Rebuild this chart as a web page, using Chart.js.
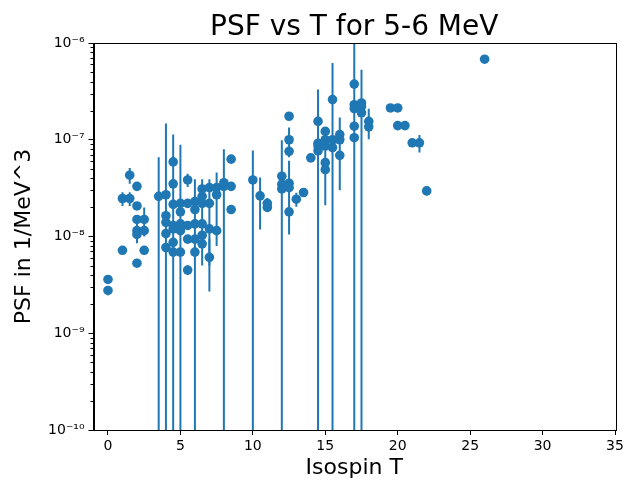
<!DOCTYPE html>
<html>
<head>
<meta charset="utf-8">
<script src="https://cdn.jsdelivr.net/npm/chart.js@4/dist/chart.umd.min.js"></script>
<style>
  html, body { margin: 0; padding: 0; background: #fff; }
  #plot { display: block; }
</style>
</head>
<body>
<canvas id="plot" width="631" height="483"></canvas>
<script>
// isospin T of each level, PSF value and its (symmetric) error
var isospinT = [
    0, 0,
    1, 1,
    1.5, 1.5,
    2, 2, 2, 2, 2, 2,
    2.5, 2.5, 2.5,
    3.5,
    4, 4, 4, 4, 4,
    4.5, 4.5, 4.5, 4.5, 4.5, 4.5, 4.5,
    5, 5, 5, 5, 5,
    5.5, 5.5, 5.5, 5.5, 5.5,
    6, 6, 6, 6, 6,
    6.5, 6.5, 6.5, 6.5, 6.5, 6.5,
    7, 7, 7, 7,
    7.5, 7.5, 7.5,
    8, 8,
    8.5, 8.5, 8.5,
    10, 10.5, 11, 11,
    12, 12, 12,
    12.5, 12.5, 12.5, 12.5, 12.5, 12.5,
    13, 13.5, 14,
    14.5, 14.5, 14.5, 14.5,
    15, 15, 15, 15, 15,
    15.5, 15.5, 15.5,
    16, 16, 16,
    17, 17, 17, 17, 17,
    17.5, 17.5, 17.5,
    18, 18,
    19.5, 20, 20, 20.5, 21, 21.5, 22, 26
];
var psf = [
    3.6e-9, 2.77e-9,
    7.2e-9, 2.47e-8,
    4.3e-8, 2.47e-8,
    3.3e-8, 2.07e-8, 1.5e-8, 1.15e-8, 1.05e-8, 5.3e-9,
    1.5e-8, 1.15e-8, 7.2e-9,
    2.6e-8,
    2.7e-8, 1.64e-8, 1.4e-8, 1.07e-8, 7.7e-9,
    5.9e-8, 3.5e-8, 2.15e-8, 1.3e-8, 1.2e-8, 8.7e-9, 6.9e-9,
    2.2e-8, 1.8e-8, 1.35e-8, 1.15e-8, 6.9e-9,
    3.84e-8, 2.2e-8, 1.3e-8, 9.4e-9, 4.5e-9,
    2.3e-8, 1.9e-8, 1.35e-8, 9.4e-9, 6.9e-9,
    3.1e-8, 2.6e-8, 2.2e-8, 1.35e-8, 1.03e-8, 8.4e-9,
    3.2e-8, 2.2e-8, 1.2e-8, 6.1e-9,
    3.2e-8, 2.7e-8, 1.15e-8,
    3.6e-8, 3.3e-8,
    6.3e-8, 3.3e-8, 1.9e-8,
    3.84e-8, 2.63e-8, 2.2e-8, 2.0e-8,
    4.2e-8, 3.47e-8, 3.1e-8,
    1.75e-7, 1.0e-7, 7.6e-8, 3.55e-8, 3.2e-8, 1.8e-8,
    2.43e-8, 2.85e-8, 6.5e-8,
    1.55e-7, 9.2e-8, 8.6e-8, 7.7e-8,
    1.22e-7, 1.0e-7, 8.6e-8, 5.8e-8, 4.9e-8,
    2.6e-7, 1.0e-7, 8.3e-8,
    1.13e-7, 1.0e-7, 6.9e-8,
    3.76e-7, 2.3e-7, 2.1e-7, 1.38e-7, 1.05e-7,
    2.4e-7, 2.2e-7, 1.9e-7,
    1.55e-7, 1.36e-7,
    2.13e-7, 2.13e-7, 1.4e-7, 1.4e-7, 9.3e-8, 9.3e-8, 2.96e-8, 6.8e-7
];
var psfErr = [
    0, 3e-10,
    0, 4e-9,
    8e-9, 4e-9,
    0, 0, 0, 3e-9, 0, 0,
    5e-9, 0, 0,
    4e-8,
    1.2e-7, 0, 0, 0, 0,
    0, 7.8e-8, 0, 0, 0, 0, 0,
    6.7e-8, 0, 0, 0, 0,
    6e-9, 0, 0, 0, 5e-10,
    0, 2.0e-8, 0, 0, 0,
    0, 0, 1.7e-8, 0, 0, 0,
    0, 1.7e-8, 0, 3.4e-9,
    0, 1.9e-8, 0,
    0, 4.7e-8,
    0, 0, 0,
    3.9e-8, 1.45e-8, 3e-9, 0,
    5.7e-8, 0, 0,
    0, 3.4e-8, 0, 2.5e-8, 0, 0,
    4e-9, 0, 0,
    1.75e-7, 0, 0, 0,
    0, 0, 0, 0, 2.8e-8,
    3.6e-7, 0, 0,
    0, 7e-8, 0,
    7e-7, 0, 0, 0, 0,
    2.9e-7, 0, 0,
    5.4e-8, 0,
    0, 1e-8, 0, 1e-8, 0, 1.9e-8, 3e-9, 0
];

var xTicks = [0, 5, 10, 15, 20, 25, 30, 35];
var yTicks = [1e-10, 1e-9, 1e-8, 1e-7, 1e-6];
var yTickLabels = ['10⁻¹⁰', '10⁻⁹', '10⁻⁸', '10⁻⁷', '10⁻⁶'];

var blue = '#1f77b4';
var fontName = "'DejaVu Sans', sans-serif";

var points = isospinT.map(function(t, i) {
    return { x: t, y: psf[i] };
});

// vertical error bars, drawn under the dots
var errorBars = {
    id: 'errorBars',
    beforeDatasetsDraw: function(chart) {
        var ctx = chart.ctx;
        var xs = chart.scales.x;
        var ys = chart.scales.y;
        var area = chart.chartArea;
        ctx.save();
        ctx.beginPath();
        ctx.rect(area.left, area.top, area.right - area.left, area.bottom - area.top);
        ctx.clip();
        ctx.strokeStyle = blue;
        ctx.lineWidth = 2;
        psfErr.forEach(function(e, i) {
            if (!e) return;
            var x = xs.getPixelForValue(isospinT[i]);
            var top = ys.getPixelForValue(psf[i] + e);
            var low = psf[i] - e;
            var bottom = low > 0 ? ys.getPixelForValue(low) : area.bottom + 2;
            ctx.beginPath();
            ctx.moveTo(x, top);
            ctx.lineTo(x, bottom);
            ctx.stroke();
        });
        ctx.restore();
    }
};

// box around the axes, minor log ticks and the title
var frame = {
    id: 'frame',
    afterDraw: function(chart) {
        var ctx = chart.ctx;
        var a = chart.chartArea;
        var ys = chart.scales.y;
        ctx.save();
        ctx.strokeStyle = '#000';
        ctx.lineWidth = 1;
        ctx.strokeRect(Math.round(a.left) + 0.5, Math.round(a.top) + 0.5,
            Math.round(a.right - a.left), Math.round(a.bottom - a.top));

        ctx.beginPath();
        for (var d = 0; d < yTicks.length - 1; d++) {
            for (var k = 2; k < 10; k++) {
                var py = Math.round(ys.getPixelForValue(k * yTicks[d])) + 0.5;
                ctx.moveTo(a.left - 3, py);
                ctx.lineTo(a.left, py);
            }
        }
        ctx.stroke();

        ctx.fillStyle = '#000';
        ctx.font = '28px ' + fontName;
        ctx.textAlign = 'center';
        ctx.textBaseline = 'alphabetic';
        ctx.fillText('PSF vs T for 5-6 MeV', (a.left + a.right) / 2, 35);
        ctx.restore();
    }
};

new Chart(document.getElementById('plot'), {
    type: 'scatter',
    data: {
        datasets: [{
            data: points,
            backgroundColor: blue,
            borderWidth: 0,
            pointRadius: 4.8,
            pointHoverRadius: 4.8
        }]
    },
    options: {
        responsive: false,
        animation: false,
        devicePixelRatio: 1,
        layout: { padding: { top: 43, right: 16, left: 0, bottom: 0 } },
        plugins: {
            legend: { display: false },
            tooltip: { enabled: false }
        },
        scales: {
            x: {
                type: 'linear',
                min: -1,
                max: 35,
                afterBuildTicks: function(scale) {
                    scale.ticks = xTicks.map(function(v) { return { value: v }; });
                },
                afterFit: function(scale) { scale.height = 53; },
                grid: { drawOnChartArea: false, tickLength: 5, tickColor: '#000' },
                border: { color: '#000' },
                ticks: { color: '#000', padding: 3, font: { family: fontName, size: 14 } },
                title: {
                    display: true,
                    text: 'Isospin T',
                    color: '#000',
                    padding: { top: 2, bottom: 2 },
                    font: { family: fontName, size: 22 }
                }
            },
            y: {
                type: 'logarithmic',
                min: 1e-10,
                max: 1e-6,
                afterBuildTicks: function(scale) {
                    scale.ticks = yTicks.map(function(v) { return { value: v }; });
                },
                afterFit: function(scale) { scale.width = 93.5; },
                grid: { drawOnChartArea: false, tickLength: 5, tickColor: '#000' },
                border: { color: '#000' },
                ticks: {
                    color: '#000',
                    padding: 4,
                    font: { family: fontName, size: 14 },
                    callback: function(value, index) { return yTickLabels[index]; }
                },
                title: {
                    display: true,
                    text: 'PSF in 1/MeV^3',
                    color: '#000',
                    padding: { top: 11, bottom: 11 },
                    font: { family: fontName, size: 22 }
                }
            }
        }
    },
    plugins: [errorBars, frame]
});
</script>
</body>
</html>
